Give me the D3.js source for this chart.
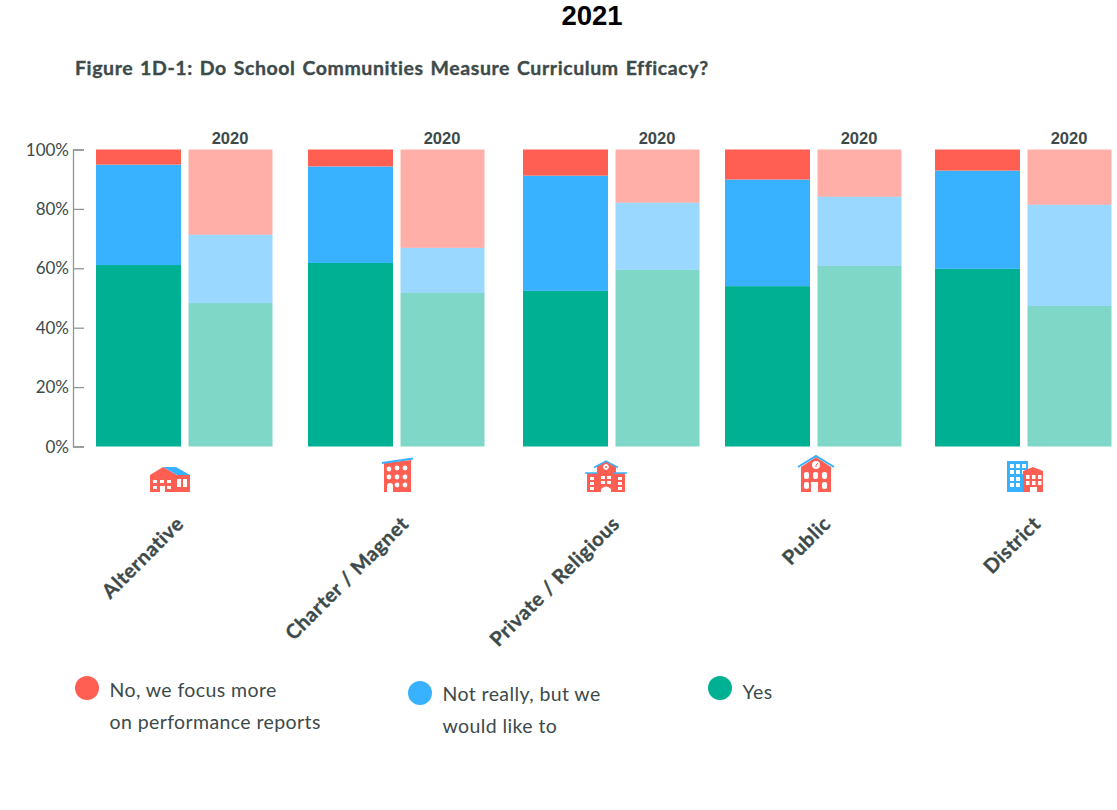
<!DOCTYPE html>
<html>
<head>
<meta charset="utf-8">
<script src="https://d3js.org/d3.v7.min.js"></script>
<style>
  html, body { margin: 0; background: #fff; }
  text { font-family: Lato, sans-serif; fill: #3d4a4a; }
  .head { font-family: "Liberation Sans", Arial, sans-serif; font-weight: bold; }
  .heavy { font-weight: 700; stroke: #3d4a4a; stroke-width: 0.35px; }
</style>
</head>
<body>
<svg id="chart" width="1117" height="810"></svg>
<script>
var categories = ["Alternative", "Charter / Magnet", "Private / Religious", "Public", "District"];
var categoryLefts = [96, 308, 523, 725, 935];
var keys = ["yes", "notReally", "no"];

// percent of respondents
var yes2021 = [61.1, 61.8, 52.4, 54.0, 59.8];
var notReally2021 = [33.8, 32.5, 38.8, 35.9, 33.1];
var no2021 = [5.1, 5.7, 8.8, 10.1, 7.1];

var yes2020 = [48.3, 51.7, 59.5, 60.8, 47.3];
var notReally2020 = [23.0, 15.2, 22.6, 23.3, 34.1];
var no2020 = [28.7, 33.1, 17.9, 15.9, 18.6];

var yTicks = [0, 20, 40, 60, 80, 100];
var colors = { yes: "#00b092", notReally: "#38b2ff", no: "#ff5f52" };

var legendItems = [
  { key: "no", lines: ["No, we focus more", "on performance reports"], x: 87, y: 688, dy: 9 },
  { key: "notReally", lines: ["Not really, but we", "would like to"], x: 420, y: 693, dy: 8 },
  { key: "yes", lines: ["Yes"], x: 720, y: 688, dy: 11 }
];

var svg = d3.select("#chart");

var y = d3.scaleLinear().domain([0, 100]).range([446.5, 149.5]);
var x = d3.scaleOrdinal().domain(categories).range(categoryLefts);
var bar2020Offset = 92.5;

function rows(yes, notReally, no) {
  return categories.map(function(c, i) {
    return { category: c, yes: yes[i], notReally: notReally[i], no: no[i] };
  });
}

var stack = d3.stack().keys(keys);

function drawBars(data, offset, barW, opacity) {
  svg.append("g").selectAll("g")
    .data(stack(data))
    .enter().append("g")
      .attr("fill", function(d) { return colors[d.key]; })
      .attr("fill-opacity", opacity)
    .selectAll("rect")
    .data(function(d) { return d; })
    .enter().append("rect")
      .attr("x", function(d) { return x(d.data.category) + offset; })
      .attr("width", barW)
      .attr("y", function(d) { return y(d[1]); })
      .attr("height", function(d) { return y(d[0]) - y(d[1]); });
}

drawBars(rows(yes2021, notReally2021, no2021), 0, 85, 1);
drawBars(rows(yes2020, notReally2020, no2020), bar2020Offset, 84, 0.5);

// y axis, ticks point into the plot
var axis = svg.append("g")
  .attr("transform", "translate(73,0)")
  .call(d3.axisRight(y).tickValues(yTicks).tickSize(11).tickFormat(""));
axis.selectAll("path, line").attr("stroke", "#8f9696").attr("stroke-width", 1.3);

svg.append("g").selectAll("text")
  .data(yTicks)
  .enter().append("text")
    .attr("x", 69)
    .attr("y", function(d) { return y(d) + 6; })
    .attr("text-anchor", "end")
    .style("font-size", "17px")
    .text(function(d) { return d + "%"; });

// 2020 label over each pale bar
svg.append("g").selectAll("text")
  .data(categories)
  .enter().append("text")
    .attr("class", "head")
    .attr("x", function(d) { return x(d) + bar2020Offset + 41.5; })
    .attr("y", 144)
    .attr("text-anchor", "middle")
    .style("font-size", "16.5px")
    .text("2020");

// category labels
var labelAnchors = [185, 410, 621, 832, 1042];
svg.append("g").selectAll("text")
  .data(categories)
  .enter().append("text")
    .attr("class", "heavy")
    .attr("text-anchor", "end")
    .attr("transform", function(d, i) { return "translate(" + labelAnchors[i] + ",525) rotate(-45)"; })
    .style("font-size", "20px")
    .style("letter-spacing", "0.6px")
    .text(function(d) { return d; });

// titles
svg.append("text")
  .attr("class", "head")
  .attr("x", 592).attr("y", 25)
  .attr("text-anchor", "middle")
  .style("font-size", "27.5px")
  .style("fill", "#000")
  .text("2021");

svg.append("text")
  .attr("class", "heavy")
  .attr("x", 75).attr("y", 75)
  .style("font-size", "19.5px")
  .style("letter-spacing", "0.6px")
  .style("word-spacing", "1.5px")
  .text("Figure 1D-1: Do School Communities Measure Curriculum Efficacy?");

// legend
var legend = svg.append("g").selectAll("g")
  .data(legendItems)
  .enter().append("g")
    .attr("transform", function(d) { return "translate(" + d.x + "," + d.y + ")"; });

legend.append("circle")
  .attr("r", 12)
  .attr("fill", function(d) { return colors[d.key]; });

legend.selectAll("text")
  .data(function(d) { return d.lines.map(function(l, i) { return { text: l, y: d.dy + i * 32 }; }); })
  .enter().append("text")
    .attr("x", 22.5)
    .attr("y", function(d) { return d.y; })
    .style("font-size", "19.5px")
    .style("letter-spacing", "0.4px")
    .text(function(d) { return d.text; });

// school icons, drawn in local pixels
var red = colors.no, blue = colors.notReally;

function windows(g, list, w, h, rx) {
  g.selectAll(null).data(list).enter().append("rect")
    .attr("x", function(d) { return d[0]; }).attr("y", function(d) { return d[1]; })
    .attr("width", w).attr("height", h).attr("rx", rx || 0).attr("fill", "#fff");
}

function icon(cx) {
  return svg.append("g").attr("transform", "translate(" + cx + ",492)");
}

var a = icon(150);
a.append("path").attr("fill", red).attr("d", "M0 0V-17L13 -25L27 -17H40V0Z");
a.append("path").attr("fill", blue).attr("d", "M13 -25H26L40 -17H27Z");
windows(a, [[3,-12],[10,-12],[17,-12],[3,-6],[17,-6]], 4, 3);
windows(a, [[27,-13],[33,-13]], 4, 8);
a.append("rect").attr("x", 10).attr("y", -6).attr("width", 5).attr("height", 6).attr("fill", "#fff");

var c = icon(384);
c.append("path").attr("fill", red).attr("d", "M0 0V-29L27 -32V0Z");
c.append("path").attr("stroke", blue).attr("stroke-width", 2).attr("d", "M-2 -29L29 -33.5");
c.selectAll(null).data([[5,-23],[13,-24],[21,-24],[5,-15],[13,-15],[21,-15],[13,-7],[21,-7]])
  .enter().append("circle")
    .attr("cx", function(d) { return d[0]; }).attr("cy", function(d) { return d[1]; })
    .attr("r", 2.4).attr("fill", "#fff");
c.append("path").attr("fill", "#fff").attr("d", "M3 0V-6Q3 -9 6 -9Q9 -9 9 -6V0Z");

var p = icon(585);
p.append("path").attr("fill", red).attr("d", "M2 0V-19H12V-26L21 -31L31 -26V-19H40V0Z");
p.append("path").attr("fill", "none").attr("stroke", blue).attr("stroke-width", 1.5).attr("d", "M0 -19H13M29 -19H42M9 -24.5L21 -31L33 -24.5");
p.append("circle").attr("cx", 21).attr("cy", -25).attr("r", 2.4).attr("fill", "#fff").attr("stroke", "#fff");
p.append("circle").attr("cx", 21).attr("cy", -25).attr("r", 1).attr("fill", red);
windows(p, [[5,-15],[5,-10],[5,-5],[33,-15],[33,-10],[33,-5],[16,-16],[22,-16],[16,-11],[22,-11]], 4, 3);
p.append("path").attr("fill", "#fff").attr("d", "M16 0V-3Q21 -8 26 -3V0Z");

var u = icon(798);
u.append("path").attr("fill", red).attr("d", "M3 0V-25L18 -35L33 -25V0Z");
u.append("path").attr("fill", "none").attr("stroke", blue).attr("stroke-width", 2).attr("d", "M0 -25L18 -36L36 -25");
u.append("circle").attr("cx", 18).attr("cy", -27).attr("r", 4).attr("fill", "#fff");
u.append("path").attr("stroke", red).attr("d", "M18 -27L20 -29M18 -27V-25");
windows(u, [[6,-20],[15,-20],[24,-20],[6,-10],[24,-10]], 5, 7, 2);
u.append("rect").attr("x", 13).attr("y", -10).attr("width", 7).attr("height", 10).attr("fill", "#fff");

var s = icon(1006);
s.append("rect").attr("x", 1).attr("y", -31).attr("width", 21).attr("height", 31).attr("fill", blue);
windows(s, [[4,-28],[10,-28],[16,-28],[4,-22],[10,-22],[16,-22],[4,-15],[10,-15],[4,-9],[10,-9]], 4, 4);
s.append("path").attr("fill", red).attr("d", "M17 0V-21L27 -25L37 -21V0Z");
windows(s, [[20,-17],[26,-17],[32,-17],[20,-11],[26,-11],[32,-11]], 3.5, 4);
s.append("rect").attr("x", 24).attr("y", -5).attr("width", 7).attr("height", 5).attr("fill", "#fff");
</script>
</body>
</html>
